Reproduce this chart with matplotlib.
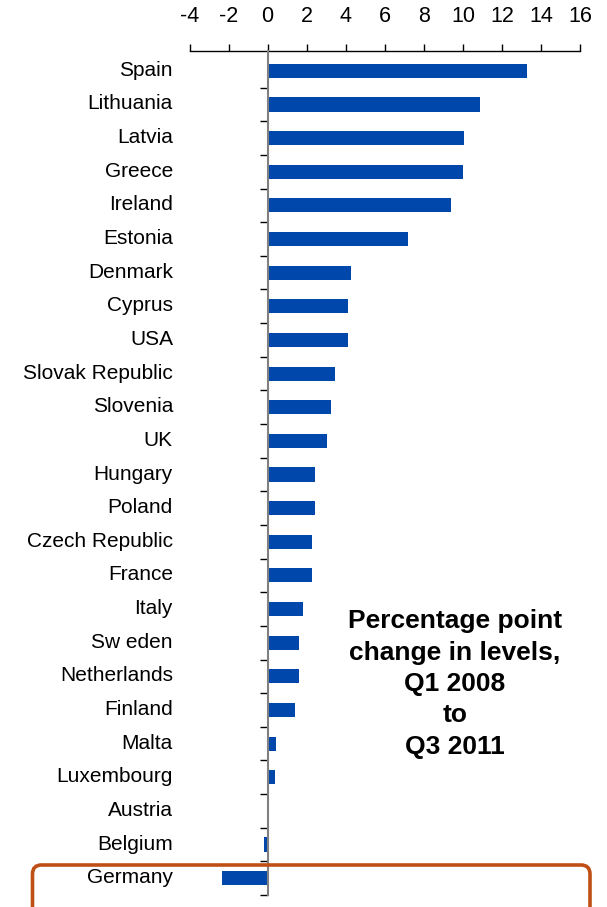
import matplotlib
matplotlib.use("Agg")
import matplotlib.pyplot as plt
from matplotlib.patches import FancyBboxPatch
from matplotlib.transforms import ScaledTranslation
import numpy as np

plt.rcParams['font.family'] = ['Liberation Sans', 'DejaVu Sans']

countries = ["Spain", "Lithuania", "Latvia", "Greece", "Ireland", "Estonia",
             "Denmark", "Cyprus", "USA", "Slovak Republic", "Slovenia", "UK",
             "Hungary", "Poland", "Czech Republic", "France", "Italy",
             "Sw eden", "Netherlands", "Finland", "Malta", "Luxembourg",
             "Austria", "Belgium", "Germany"]
change_pp = [13.27, 10.88, 10.05, 10.0, 9.39, 7.18,
             4.27, 4.11, 4.11, 3.45, 3.24, 3.04,
             2.42, 2.42, 2.27, 2.27, 1.81,
             1.6, 1.6, 1.4, 0.43, 0.37,
             0.0, -0.19, -2.34]
x_ticks = [-4, -2, 0, 2, 4, 6, 8, 10, 12, 14, 16]

W, H = 607, 907
fig = plt.figure(figsize=(W / 100, H / 100), dpi=100)
ax = fig.add_axes([189.6 / W, (H - 895) / H, 390.4 / W, 844 / H])

ypos = np.arange(len(countries))
ax.barh(ypos, change_pp, height=0.42, color='#0047ab', zorder=2)

ax.set_xlim(-4, 16)
ax.set_ylim(len(countries) - 0.5, -0.59)

# x axis along the top
ax.xaxis.tick_top()
ax.set_xticks(x_ticks)
ax.set_xticklabels([str(t) for t in x_ticks], fontsize=15.5)
ax.tick_params(axis='x', direction='out', length=5, width=1, color='black', pad=12)

# category axis sits on zero; boundary ticks, labels pushed to the left
ax.spines['left'].set_position(('data', 0))
ax.spines['left'].set_color('#808080')
ax.spines['left'].set_linewidth(1.5)
ax.spines['left'].set_zorder(3)
ax.spines['right'].set_visible(False)
ax.spines['bottom'].set_visible(False)
ax.spines['top'].set_color('black')
ax.spines['top'].set_linewidth(1)

ax.set_yticks(ypos)
ax.set_yticklabels(countries, fontsize=15)
ax.tick_params(axis='y', which='major', length=0, pad=68.2)
ax.set_yticks(ypos + 0.5, minor=True)
ax.tick_params(axis='y', which='minor', direction='out', length=6, width=1, color='black')

# nudge the category names slightly upward
lift = ScaledTranslation(0, 2.5 / 100, fig.dpi_scale_trans)
for lbl in ax.get_yticklabels():
    lbl.set_transform(lbl.get_transform() + lift)

fig.text(455 / W, 1 - 684 / H,
         "Percentage point\nchange in levels,\nQ1 2008\nto\nQ3 2011",
         ha='center', va='center', fontsize=19, fontweight='bold',
         linespacing=1.39)

# highlight frame around the last row
box = FancyBboxPatch((32.5, -20), 557.5, (H - 865) + 20,
                     boxstyle="round,pad=0,rounding_size=9",
                     transform=None, fill=False, edgecolor='#c04f15',
                     linewidth=2.6, zorder=5)
fig.patches.append(box)

fig.savefig("out.png", dpi=100)
